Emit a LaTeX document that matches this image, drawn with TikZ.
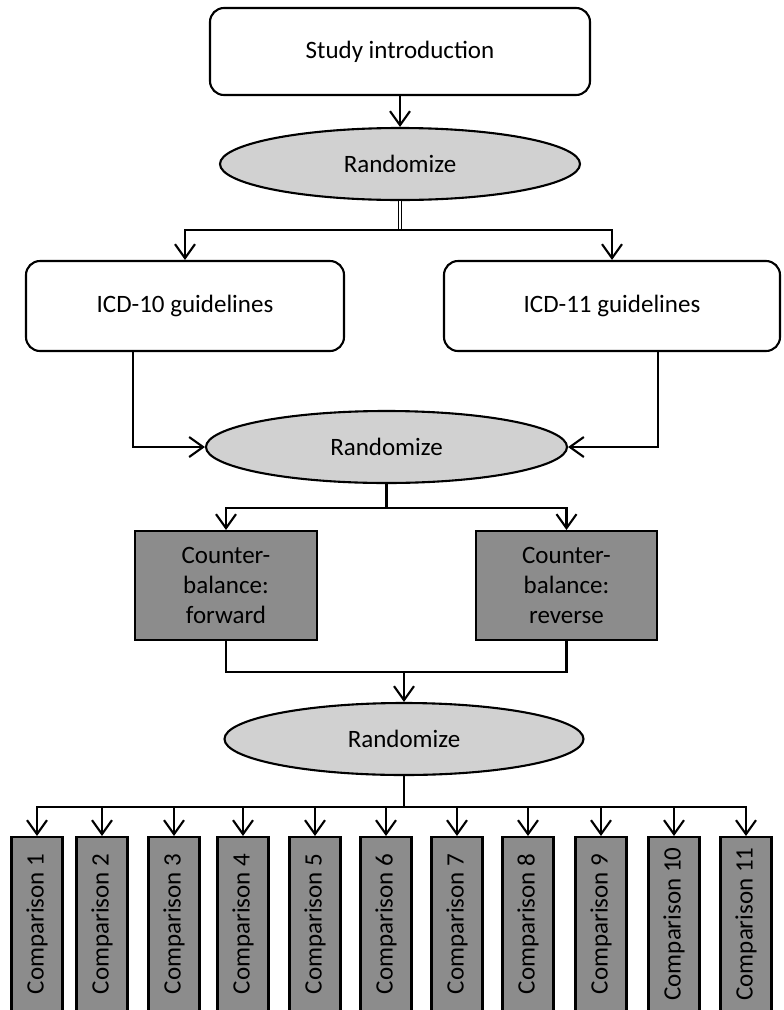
\documentclass[tikz,border=0pt]{standalone}
\usepackage{fontspec}
\setmainfont{Carlito}
\usetikzlibrary{shapes.geometric,arrows.meta}
\newcommand\myfs{\fontsize{25}{30}\selectfont}
\begin{document}
\begin{tikzpicture}[x=1pt,y=-1pt,line width=2.1pt,
  roundbox/.style={draw, rounded corners=14pt, fill=white, inner sep=0pt, font=\myfs},
  oval/.style={ellipse, draw, fill=black!18, inner sep=0pt, minimum height=72pt, font=\myfs},
  darkbox/.style={draw, fill=black!45, inner sep=0pt, align=center, font=\myfs, minimum height=109pt},
  compbox/.style={draw, fill=black!45, rotate=90, minimum width=174pt, minimum height=51pt, inner sep=0pt, font=\myfs},
  arr/.style={-{Straight Barb[length=14pt,width=20pt,line width=2.1pt]}}]
\useasboundingbox (0,0) rectangle (784,1010);
\clip (0,0) rectangle (784,1010);
\fill[white] (0,0) rectangle (784,1010);

\node[roundbox, minimum width=380pt, minimum height=87pt] (intro) at (400,51.5) {Study\ introduction};
\node[oval, minimum width=360pt] (r1) at (400,164) {Randomize};
\node[roundbox, minimum width=318pt, minimum height=90pt] (icd10) at (185,306) {ICD-10 guidelines};
\node[roundbox, minimum width=336pt, minimum height=90pt] (icd11) at (612,306) {ICD-11 guidelines};
\node[oval, minimum width=361pt] (r2) at (386.5,447) {Randomize};
\node[darkbox, minimum width=182pt] (fwd) at (226,585.5) {Counter-\\balance:\\forward};
\node[darkbox, minimum width=181pt] (rev) at (566.5,585.5) {Counter-\\balance:\\reverse};
\node[oval, minimum width=359pt] (r3) at (404,739) {Randomize};

\foreach \i/\cx in {1/37,2/102,3/174,4/243,5/315,6/386,7/457,8/528,9/601,10/674,11/746}{
  \node[compbox] (c\i) at (\cx,924) {Comparison \i};
}

\coordinate (j1) at (400,230);
\coordinate (j2) at (386.5,508);
\coordinate (j3) at (404,672);
\coordinate (j4) at (404,807);

\draw[arr] (intro.south) -- (r1.north);
\draw[double, double distance=2pt, line width=1.3pt] (r1.south) -- (j1);
\draw[arr] (j1) -| (icd10.north);
\draw[arr] (j1) -| (icd11.north);
\draw[arr] ([xshift=-52pt]icd10.south) |- (r2.west);
\draw[arr] ([xshift=46pt]icd11.south) |- (r2.east);
\draw (r2.south) -- (j2);
\draw[arr] (j2) -| (fwd.north);
\draw[arr] (j2) -| (rev.north);
\draw (fwd.south) |- (rev.south |- j3) -- (rev.south);
\draw[arr] (j3) -- (r3.north);
\draw (r3.south) -- (j4);
\foreach \i in {1,...,11}{
  \draw[arr] (j4) -| (c\i.east);
}
\end{tikzpicture}
\end{document}
